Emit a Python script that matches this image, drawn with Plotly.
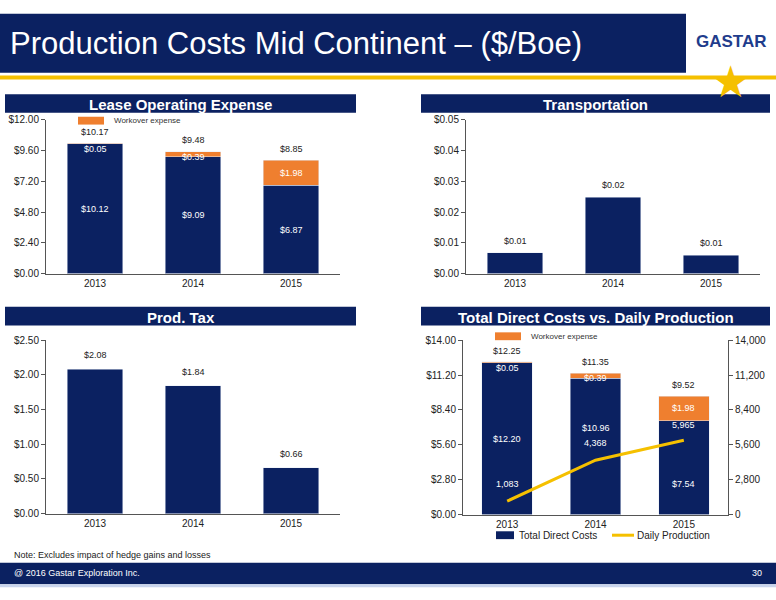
import plotly.graph_objects as go

W, H = 776, 600
NAVY = "#0b2161"
ORANGE = "#ef7f2f"
GOLD = "#f5c000"
FONT = "Liberation Sans, Arial"

years = ["2013", "2014", "2015"]
loe_base = [10.12, 9.09, 6.87]
loe_workover = [0.05, 0.39, 1.98]
loe_total = [10.17, 9.48, 8.85]
transport = [0.0067, 0.0248, 0.006]
transport_lbl = ["$0.01", "$0.02", "$0.01"]
prod_tax = [2.08, 1.84, 0.66]
tdc_base = [12.20, 10.96, 7.54]
tdc_workover = [0.05, 0.39, 1.98]
tdc_total = [12.25, 11.35, 9.52]
daily_prod = [1083, 4368, 5965]

xpos = list(range(len(years)))


def px_x(v):
    return v / W


def px_y(v):
    return 1 - v / H


fig = go.Figure()


def bar(y, color, xa, ya):
    fig.add_trace(go.Bar(x=xpos, y=y, marker_color=color, width=0.57, xaxis=xa, yaxis=ya,
                         showlegend=False, hoverinfo="skip"))


bar(loe_base, NAVY, "x", "y")
bar(loe_workover, ORANGE, "x", "y")
bar(transport, NAVY, "x2", "y2")
bar(prod_tax, NAVY, "x3", "y3")
bar(tdc_base, NAVY, "x4", "y4")
bar(tdc_workover, ORANGE, "x4", "y4")
fig.add_trace(go.Scatter(x=xpos, y=daily_prod, mode="lines", line=dict(color=GOLD, width=3),
                         xaxis="x4", yaxis="y5", showlegend=False, hoverinfo="skip"))


def xax(x0, x1, anchor):
    return dict(domain=[px_x(x0), px_x(x1)], anchor=anchor, range=[-0.5, 2.5],
                tickvals=xpos, ticktext=years, showline=True,
                linecolor="#555", ticks="", tickfont=dict(size=10, color="#222"),
                showgrid=False, zeroline=False, fixedrange=True)


def yax(y0, y1, rng, dtick, fmt, anchor, side="left", prefix="$"):
    return dict(domain=[px_y(y1), px_y(y0)], range=rng, dtick=dtick, tickformat=fmt,
                tickprefix=prefix, anchor=anchor, side=side, showline=True, linecolor="#555",
                ticks="outside", ticklen=4, tickcolor="#555", showgrid=False, zeroline=False,
                tickfont=dict(size=10, color="#222"), fixedrange=True)


fig.update_layout(
    width=W, height=H, autosize=False, margin=dict(l=0, r=0, t=0, b=0),
    paper_bgcolor="white", plot_bgcolor="white", barmode="stack",
    font=dict(family=FONT),
    xaxis=xax(46, 340, "y"),
    yaxis=yax(116, 273, [0, 12], 2.4, ".2f", "x"),
    xaxis2=xax(466, 760, "y2"),
    yaxis2=yax(116, 273, [0, 0.05], 0.01, ".2f", "x2"),
    xaxis3=xax(46, 340, "y3"),
    yaxis3=yax(341, 518, [0, 2.5], 0.5, ".2f", "x3"),
    xaxis4=xax(463, 728, "y4"),
    yaxis4=yax(341, 519, [0, 14], 2.8, ".2f", "x4"),
    yaxis5=dict(yax(341, 519, [0, 14000], 2800, ",.0f", "x4", side="right", prefix=""),
                overlaying="y4"),
)

shapes = []
ann = []


def rect(x0, y0, x1, y1, color):
    shapes.append(dict(type="rect", xref="paper", yref="paper", x0=px_x(x0), x1=px_x(x1),
                       y0=px_y(y1), y1=px_y(y0), fillcolor=color, line=dict(width=0), layer="below"))


def text(x, y, s, size=10, color="#222", xanchor="center", bold=False, xref="paper", yref="paper"):
    if xref == "paper":
        x = px_x(x)
    if yref == "paper":
        y = px_y(y)
    ann.append(dict(x=x, y=y, xref=xref, yref=yref, text=f"<b>{s}</b>" if bold else s,
                    showarrow=False, xanchor=xanchor, yanchor="middle",
                    font=dict(size=size, color=color, family=FONT)))


# header and footer
rect(0, 8, 686, 68, NAVY)
rect(0, 71, 776, 75, GOLD)
text(8, 38, "Production Costs Mid Continent – ($/Boe)", 31, "white", "left")
ann.append(dict(x=px_x(752), y=px_y(50), xref="paper", yref="paper", text="★", showarrow=False,
                font=dict(size=44, color=GOLD)))
text(731, 36, "GASTAR", 17, "#1f3c8c", "center", bold=True)
rect(0, 568, 776, 590, NAVY)
rect(0, 590, 776, 593, "#c8d4ec")
text(12, 579, "@ 2016 Gastar Exploration Inc.", 9, "white", "left")
text(764, 579, "30", 9, "white", "right")
text(12, 560, "Note: Excludes impact of hedge gains and losses", 9, "#222", "left")

# panel titles
for x0, x1, y0, y1, t in [(5, 356, 90, 109, "Lease Operating Expense"),
                          (421, 770, 90, 109, "Transportation"),
                          (5, 356, 307, 326, "Prod. Tax"),
                          (421, 770, 307, 326, "Total Direct Costs vs. Daily Production")]:
    rect(x0, y0, x1, y1, NAVY)
    text((x0 + x1) / 2, (y0 + y1) / 2 + 1, t, 15, "white", bold=True)

# workover legends
for lx, ly in [(78, 117), (495, 337)]:
    rect(lx, ly - 4, lx + 26, ly + 4, ORANGE)
    text(lx + 34, ly, "Workover expense", 8, "#333", "left")

# bottom-right legend
rect(496, 536, 514, 544, NAVY)
text(517, 540, "Total Direct Costs", 10, "#222", "left")
shapes.append(dict(type="line", xref="paper", yref="paper", x0=px_x(612), x1=px_x(634),
                   y0=px_y(540), y1=px_y(540), line=dict(color=GOLD, width=3)))
text(635, 540, "Daily Production", 10, "#222", "left")

# value labels
for i in xpos:
    text(i, loe_base[i] / 2, f"${loe_base[i]:.2f}", 9, "white", xref="x", yref="y")
    text(i, loe_total[i] - 0.45 if i == 0 else loe_base[i] + loe_workover[i] / 2 - (0.2 if i == 1 else 0),
         f"${loe_workover[i]:.2f}", 9, "white", xref="x", yref="y")
    text(i, loe_total[i] + 0.9, f"${loe_total[i]:.2f}", 9, xref="x", yref="y")

    text(i, transport[i] + 0.004, transport_lbl[i], 9, xref="x2", yref="y2")
    text(i, prod_tax[i] + 0.2, f"${prod_tax[i]:.2f}", 9, xref="x3", yref="y3")

    text(i, tdc_total[i] + 0.9, f"${tdc_total[i]:.2f}", 9, xref="x4", yref="y4")
    text(i, [6.05, 6.95, 2.45][i], f"${tdc_base[i]:.2f}", 9, "white", xref="x4", yref="y4")
    text(i, tdc_total[i] - 0.45 if i == 0 else tdc_base[i] + tdc_workover[i] / 2 - (0.2 if i == 1 else 0),
         f"${tdc_workover[i]:.2f}", 9, "white", xref="x4", yref="y4")
    text(i, daily_prod[i] + [1400, 1400, 1200][i], f"{daily_prod[i]:,}", 9, "white",
         xref="x4", yref="y5")

fig.update_layout(shapes=shapes, annotations=ann)
fig.write_html("out.html", config={"displayModeBar": False},
               post_script="document.body.style.margin='0';document.body.style.overflow='hidden';")
